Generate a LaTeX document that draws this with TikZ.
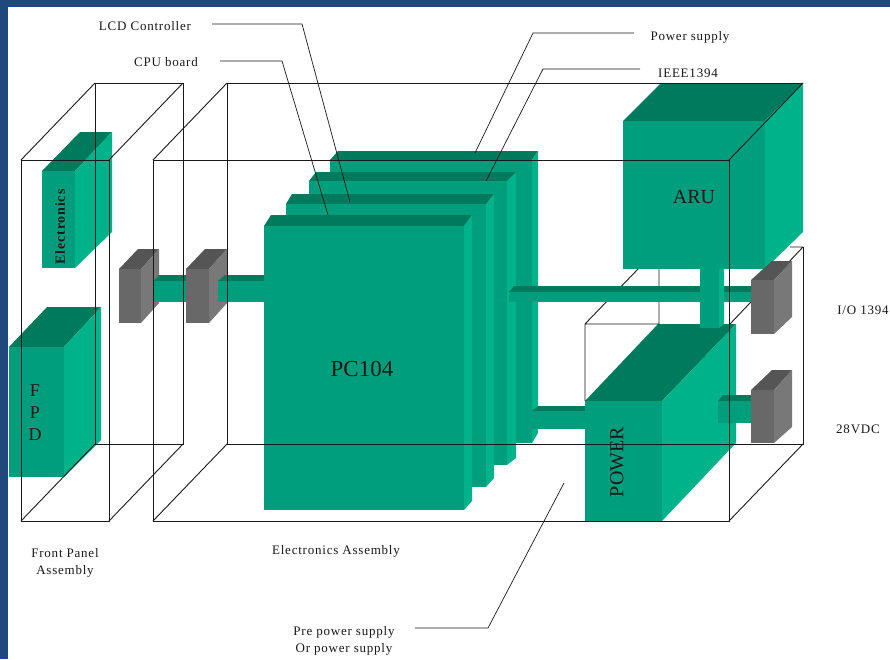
\documentclass[tikz,border=0pt]{standalone}
\usepackage{fontspec}
\setmainfont{Liberation Serif}
\newfontfamily\lblfont[LetterSpace=6]{Liberation Serif}
\definecolor{gfront}{RGB}{0,158,124}
\definecolor{gside}{RGB}{0,178,138}
\definecolor{gtop}{RGB}{0,122,92}
\definecolor{kfront}{RGB}{104,104,104}
\definecolor{kside}{RGB}{120,120,120}
\definecolor{ktop}{RGB}{85,85,85}
\definecolor{frame}{RGB}{31,73,125}
\tikzset{
  wire/.style={draw=black!90,line width=0.9pt},
  leader/.style={draw=black!90,line width=0.7pt},
  lbl/.style={font=\fontsize{13}{15}\selectfont\lblfont,inner sep=0pt,align=center,text=black!90},
  big/.style={inner sep=0pt,text=black!90},
}
\newcommand{\cuboidb}[9]{%
  \fill[#9top] (#1,#3) -- (#5,#7) -- (#6,#7) -- (#2,#3) -- cycle;
  \fill[#9side] (#2,#3) -- (#6,#7) -- (#6,#8) -- (#2,#4) -- cycle;
  \fill[#9front] (#1,#3) rectangle (#2,#4);
}
\begin{document}
\begin{tikzpicture}[x=1pt,y=-1pt]
\useasboundingbox (0,0) rectangle (890,659);
\fill[white] (0,0) rectangle (890,659);
\fill[frame] (0,0) rectangle (890,7);
\fill[frame] (0,0) rectangle (8,659);

% green modules
\cuboidb{42}{75}{171}{268}{80}{112}{132}{232}{g}
\cuboidb{9}{64}{347}{477}{47}{101}{307}{440}{g}
\cuboidb{330}{532}{160}{443}{338}{538}{151}{433}{g}
\cuboidb{309}{507}{181}{465}{316}{516}{172}{458}{g}
\cuboidb{286}{486}{204}{487}{292}{494}{194}{478}{g}
\cuboidb{264}{464}{226}{510}{271}{472}{215}{501}{g}
\cuboidb{623}{765}{121}{269}{661}{803}{83}{232}{g}
% power bar behind the power block
\fill[gtop] (532,411) -- (538,406) -- (585,406) -- (585,411) -- cycle;
\fill[gfront] (532,411) rectangle (585,429);
\cuboidb{585}{662}{401}{521}{658}{736}{324}{443}{g}

% inner box lines, lying behind the bars
\coordinate (pa) at (585,401); \coordinate (pb) at (585,324);
\coordinate (pc) at (659,324); \coordinate (pd) at (659,269);
\coordinate (pe) at (638,269); \coordinate (pf) at (730,324);
\coordinate (ei) at (803,247); \coordinate (ph) at (790,247);
\draw[wire] (pa) -- (pb) -- (pc) -- (pd) (pb) -- (pe) (pf) -- (ei) (ph) -- (ei);

% bars and gray connectors, in stacking order
\cuboidb{119}{141}{269}{323}{138}{159}{249}{303}{k}
\fill[gtop] (154,281) -- (159,275) -- (186,275) -- (186,281) -- cycle;
\fill[gfront] (154,281) rectangle (186,302);
\cuboidb{186}{209}{269}{323}{205}{227}{249}{303}{k}
\fill[gtop] (218,281) -- (225,275) -- (264,275) -- (264,281) -- cycle;
\fill[gfront] (218,281) rectangle (264,302);
\fill[gtop] (509,292) -- (514,286) -- (751,286) -- (751,292) -- cycle;
\fill[gfront] (509,292) rectangle (751,302);
\fill[gfront] (700,269) rectangle (719,328);
\fill[gside] (719,269) -- (724,269) -- (724,324) -- (719,328) -- cycle;
\fill[gtop] (718,401) -- (723,395) -- (751,395) -- (751,401) -- cycle;
\fill[gfront] (718,401) rectangle (751,423);
\cuboidb{751}{774}{280}{334}{772}{792}{261}{317}{k}
\cuboidb{751}{774}{390}{443}{772}{792}{370}{427}{k}

% wire boxes
\coordinate (fa) at (21,160);  \coordinate (fb) at (109,160);
\coordinate (fc) at (109,521); \coordinate (fd) at (21,521);
\coordinate (fe) at (95,83);   \coordinate (ff) at (183,83);
\coordinate (fg) at (183,444); \coordinate (fh) at (95,444);
\draw[wire] (fa) -- (fb) -- (fc) -- (fd) -- cycle;
\draw[wire] (fe) -- (ff) -- (fg) -- (fh) -- cycle;
\draw[wire] (fa) -- (fe) (fb) -- (ff) (fc) -- (fg) (fd) -- (fh);
\coordinate (ea) at (153,160);  \coordinate (eb) at (729,160);
\coordinate (ec) at (729,521);  \coordinate (ed) at (153,521);
\coordinate (ee) at (227,83);   \coordinate (ef) at (803,83);
\coordinate (eg) at (803,444);  \coordinate (eh) at (227,444);
\draw[wire] (ea) -- (eb) -- (ec) -- (ed) -- cycle;
\draw[wire] (ee) -- (ef);
\draw[wire] (ei) -- (eg) -- (eh) -- (ee);
\draw[wire] (ea) -- (ee) (eb) -- (ef) (ec) -- (eg) (ed) -- (eh);

% labels
\node[lbl] (lcd) at (145,26) {LCD Controller};
\node[lbl] (cpu) at (166,62) {CPU board};
\node[lbl] (psu) at (690,37) {Power supply};
\node[lbl] (ieee) at (688,73) {IEEE1394};
\node[lbl] (io) at (863,310) {I/O 1394};
\node[lbl] (vdc) at (858,429) {28VDC};
\node[lbl] (fpa) at (65,563) {Front Panel\\[2pt]Assembly};
\node[lbl] (ela) at (336,551) {Electronics Assembly};
\node[lbl] (pre) at (344,641) {Pre power supply\\[2pt]Or power supply};
\node[big,font=\fontsize{23}{26}\selectfont] (pc) at (362,369) {PC104};
\node[big,font=\fontsize{20}{22}\selectfont] (aru) at (694,197) {ARU};
\node[big,font=\fontsize{20}{22}\selectfont,rotate=90] (pow) at (617,462) {POWER};
\node[big,font=\fontsize{14}{16}\selectfont\lblfont\bfseries,rotate=90] (ele) at (60,227) {Electronics};
\node[big,font=\fontsize{18}{22}\selectfont,align=center] (fpd) at (35,413) {F\\P\\D};

% leaders
\coordinate (l1a) at (212,24); \coordinate (l1b) at (302,24); \coordinate (l1c) at (350,202);
\coordinate (l2a) at (220,61); \coordinate (l2b) at (282,61); \coordinate (l2c) at (328,215);
\coordinate (l3a) at (634,33); \coordinate (l3b) at (533,33); \coordinate (l3c) at (475,153);
\coordinate (l4a) at (640,69); \coordinate (l4b) at (543,69); \coordinate (l4c) at (486,181);
\coordinate (l5a) at (415,628); \coordinate (l5b) at (488,628); \coordinate (l5c) at (564,483);
\draw[leader] (l1a) -- (l1b) -- (l1c);
\draw[leader] (l2a) -- (l2b) -- (l2c);
\draw[leader] (l3a) -- (l3b) -- (l3c);
\draw[leader] (l4a) -- (l4b) -- (l4c);
\draw[leader] (l5a) -- (l5b) -- (l5c);
\end{tikzpicture}
\end{document}
